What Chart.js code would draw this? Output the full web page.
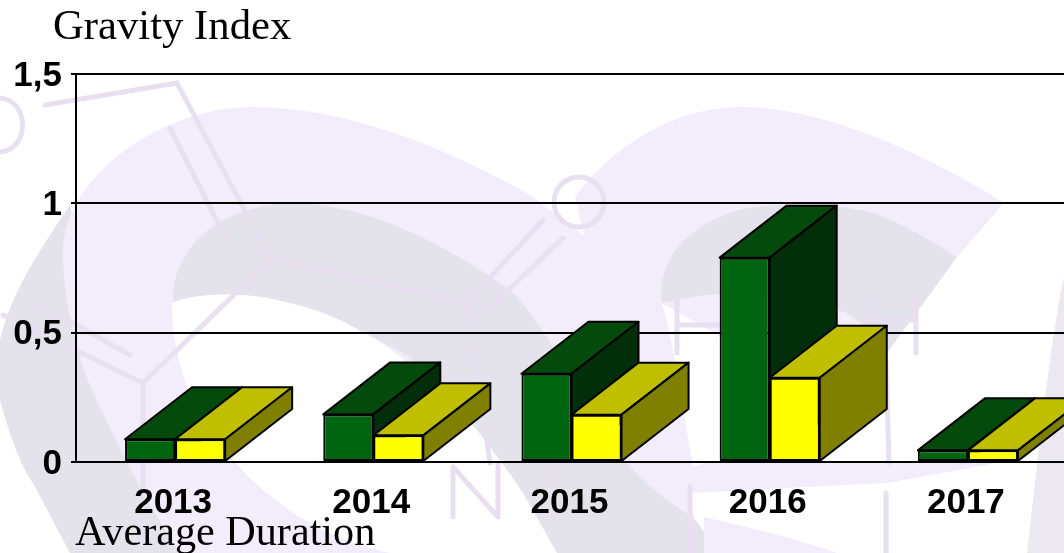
<!DOCTYPE html>
<html>
<head>
<meta charset="utf-8">
<title>Gravity Index</title>
<script src="https://cdn.jsdelivr.net/npm/chart.js@4/dist/chart.umd.min.js"></script>
<style>
  html, body { margin: 0; width: 1064px; height: 553px; overflow: hidden; background: #fff; }
  #wrap { position: relative; width: 1064px; height: 553px; overflow: hidden; }
  #mark, #chart { position: absolute; left: 0; top: 0; }
</style>
</head>
<body>
<div id="wrap">
  <!-- faint slide watermark behind the chart -->
  <svg id="mark" width="1064" height="553" viewBox="0 0 1064 553">
    <rect width="1064" height="553" fill="#ffffff"/>
    <!-- left swoosh -->
    <path d="M70,205 C40,250 12,290 0,340 L0,400 C8,430 20,465 33,483 L70,553 L185,553 L120,440 Z" fill="#e4e2ea"/>
    <path d="M63,250 C66,170 170,107 250,107 C350,107 450,150 530,195 C590,240 630,270 662,303 L670,333 L693,467 L690,495 L700,553 L180,553 C150,510 120,450 100,407 C80,370 62,300 63,250 Z" fill="#f3ecfb"/>
    <path d="M173,303 C170,270 195,207 293,203 C370,205 443,243 510,290 C540,320 560,360 580,390 L627,463 C650,490 680,510 693,517 L720,553 L557,553 L527,500 L477,430 L410,357 L360,330 L267,298 L217,294 Z" fill="#e4e2ea"/>
    <path d="M172,303 C190,294 235,292 267,298 C310,306 340,318 360,331 C400,350 445,395 477,430 C500,460 515,480 527,500 L557,553 L390,553 C360,547 330,535 300,517 C270,498 250,480 233,460 C210,430 195,410 187,387 C178,360 172,335 172,303 Z" fill="#ffffff"/>
    <!-- right swoosh -->
    <path d="M575,197 C610,150 670,107 742,107 C820,107 920,150 1004,203 L957,257 L887,353 L760,360 L662,303 L600,300 Z" fill="#f3ecfb"/>
    <path d="M662,303 C655,250 704,215 754,207 C800,203 840,205 870,212 C900,222 930,240 957,257 L887,353 C875,335 860,322 847,313 C800,298 740,292 704,295 Z" fill="#e4e2ea"/>
    <path d="M693,467 L704,463 L997,463 L887,483 L690,493 Z" fill="#f3ecfb"/>
    <path d="M704,517 C760,530 800,540 837,553 L704,553 Z" fill="#f3ecfb"/>
    <path d="M1064,277 C1052,330 1040,440 1027,553 L1064,553 Z" fill="#ece8f2"/>
    <g fill="none" stroke="#e8e0f0" stroke-width="5" stroke-linecap="round">
      <path d="M45,105 L177,83 L270,258 L467,303 L543,220"/>
      <path d="M170,128 L228,243"/>
      <path d="M270,260 L143,383 L3,315"/>
      <path d="M37,303 L130,355"/>
      <path d="M143,383 L143,553"/>
      <path d="M480,317 L563,238"/>
      <path d="M467,303 L490,463"/>
      <path d="M0,98 C30,100 30,150 0,152"/>
      <circle cx="579" cy="202" r="25"/>
      <path d="M453,467 L453,517 M453,467 L498,517 M498,463 L498,517 M553,467 L553,517"/>
      <path d="M677,297 L677,353 M677,325 L760,325"/>
      <path d="M872,295 L872,353 M916,295 L916,353 M872,320 L916,320"/>
      <path d="M886,360 L889,463 M886,493 L886,553 M690,487 L690,553"/>
    </g>
  </svg>
  <canvas id="chart" width="1072" height="553"></canvas>
</div>
<script>
const years = ["2013", "2014", "2015", "2016", "2017"];
const gravityIndex = [0.088, 0.184, 0.341, 0.79, 0.045];
const averageDuration = [0.088, 0.103, 0.183, 0.326, 0.045];
const yTicks = { 0: "0", 0.5: "0,5", 1: "1", 1.5: "1,5" };

const DEPTH_X = 67;
const DEPTH_Y = 52;

// top and side faces of each bar, left series first, fronts are painted after by the library
const depthFaces = {
  id: "depthFaces",
  beforeDatasetsDraw(chart) {
    const ctx = chart.ctx;
    ctx.save();
    ctx.strokeStyle = "#000";
    ctx.lineWidth = 2;
    ctx.lineJoin = "round";
    chart.data.datasets.forEach((ds, index) => {
      chart.getDatasetMeta(index).data.forEach((bar) => {
        const left = bar.x - bar.width / 2;
        const right = bar.x + bar.width / 2;
        const top = bar.y;
        const base = bar.base;
        ctx.fillStyle = ds.topColor;
        ctx.beginPath();
        ctx.moveTo(left, top);
        ctx.lineTo(left + DEPTH_X, top - DEPTH_Y);
        ctx.lineTo(right + DEPTH_X, top - DEPTH_Y);
        ctx.lineTo(right, top);
        ctx.closePath();
        ctx.fill();
        ctx.stroke();
        ctx.fillStyle = ds.sideColor;
        ctx.beginPath();
        ctx.moveTo(right, top);
        ctx.lineTo(right + DEPTH_X, top - DEPTH_Y);
        ctx.lineTo(right + DEPTH_X, base - DEPTH_Y);
        ctx.lineTo(right, base);
        ctx.closePath();
        ctx.fill();
        ctx.stroke();
      });
    });
    ctx.restore();
  },
};

const captions = {
  id: "captions",
  afterDraw(chart) {
    const ctx = chart.ctx;
    ctx.save();
    ctx.fillStyle = "#000";
    ctx.textAlign = "left";
    ctx.textBaseline = "alphabetic";
    ctx.font = '42.7px "Liberation Serif"';
    ctx.fillText("Gravity Index", 53, 39);
    ctx.font = '42.2px "Liberation Serif"';
    ctx.fillText("Average Duration", 75, 545);
    ctx.restore();
  },
};

new Chart(document.getElementById("chart"), {
  type: "bar",
  data: {
    labels: years,
    datasets: [
      {
        label: "Gravity Index",
        data: gravityIndex,
        backgroundColor: "#006411",
        topColor: "#044a0c",
        sideColor: "#022f09",
      },
      {
        label: "Average Duration",
        data: averageDuration,
        backgroundColor: "#ffff00",
        topColor: "#bfbf00",
        sideColor: "#808000",
      },
    ],
  },
  options: {
    responsive: false,
    animation: false,
    layout: { padding: { top: 74, right: 5 } },
    datasets: {
      bar: {
        barPercentage: 1,
        categoryPercentage: 0.505,
        borderColor: "#000",
        borderWidth: 2,
        borderSkipped: false,
      },
    },
    plugins: { legend: { display: false }, tooltip: { enabled: false } },
    scales: {
      x: {
        afterFit(scale) { scale.height = 91; },
        grid: { display: false },
        border: { color: "#000", width: 2 },
        ticks: {
          color: "#000",
          padding: 12,
          labelOffset: -2,
          maxRotation: 0,
          font: { family: '"Liberation Sans"', size: 35, weight: "bold" },
        },
      },
      y: {
        min: 0,
        max: 1.5,
        afterFit(scale) { scale.width = 76; },
        grid: { color: "#000", lineWidth: 2, tickLength: 5 },
        border: { color: "#000", width: 2 },
        ticks: {
          stepSize: 0.5,
          color: "#000",
          padding: 9,
          labelOffset: 2,
          font: { family: '"Liberation Sans"', size: 35, weight: "bold" },
          callback: (value) => yTicks[value],
        },
      },
    },
  },
  plugins: [depthFaces, captions],
});
</script>
</body>
</html>
